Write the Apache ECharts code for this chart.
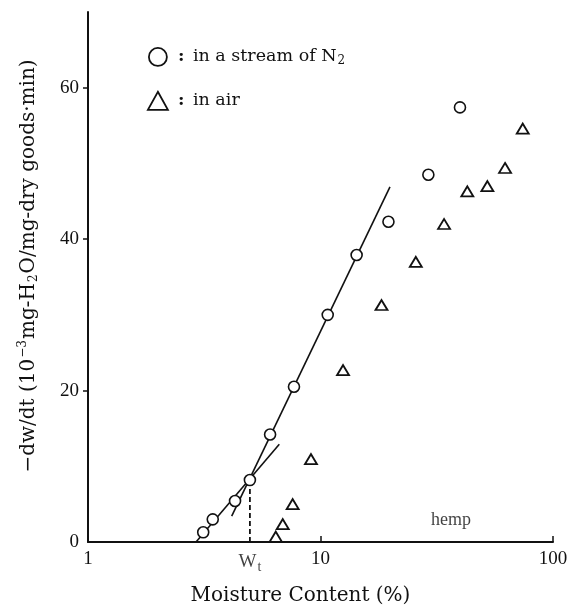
<!DOCTYPE html>
<html>
<head>
<meta charset="utf-8">
<title>Drying rate vs moisture content (hemp)</title>
<script src="https://cdn.jsdelivr.net/npm/echarts@6/dist/echarts.min.js"></script>
<style>
  html, body { margin: 0; padding: 0; background: #fff; }
  #chart { width: 577px; height: 609px; }
</style>
</head>
<body>
<div id="chart"></div>
<script>
// Drying rate of hemp, in a stream of N2 (circles) and in air (triangles)
const moistureN2 = [3.13, 3.44, 4.29, 4.97, 6.07, 7.69, 10.74, 14.3, 19.6, 29.1, 39.8];
const rateN2     = [1.28, 2.99, 5.41, 8.18, 14.2, 20.5, 30.0, 37.9, 42.3, 48.5, 57.4];

const moistureAir = [6.42, 6.88, 7.59, 9.10, 12.5, 18.3, 25.7, 34.0, 42.8, 52.2, 62.2, 74.1];
const rateAir     = [0.70, 2.37, 5.0, 10.95, 22.7, 31.3, 37.0, 42.0, 46.3, 47.0, 49.4, 54.6];

// Two straight fits (straight on the semi-log axes) crossing at the transition point Wt
const steepFitX = [4.15, 19.9];
const steepFitY = [3.43, 46.9];
const shallowFitX = [2.915, 6.65];
const shallowFitY = [0, 12.9];

// Transition moisture content Wt and the rate there
const wtMoisture = 4.97;
const wtRate = 8.18;

// Axis ticks
const xTicks = [1, 10, 100];
const yTicks = [0, 20, 40, 60];

// Sample label position
const sampleName = 'hemp';
const sampleAt = [36.4, 2.9];

const serif = "'Liberation Serif', 'DejaVu Serif', serif";
const wide = "'DejaVu Serif', 'Liberation Serif', serif";
const ink = '#111';

const zip = (xs, ys) => xs.map((x, i) => [x, ys[i]]);

const chart = echarts.init(document.getElementById('chart'));

chart.setOption({
  backgroundColor: '#fff',
  animation: false,
  textStyle: { fontFamily: serif, color: ink },
  grid: { left: 88, right: 24, top: 12, bottom: 67, outerBoundsMode: 'none' },
  legend: {
    orient: 'vertical',
    left: 147,
    top: 47,
    padding: 0,
    itemWidth: 20,
    itemHeight: 18,
    itemGap: 24,
    data: [
      { name: 'in a stream of N2', icon: 'circle' },
      { name: 'in air', icon: 'triangle' }
    ],
    itemStyle: { color: '#fff', borderColor: ink, borderWidth: 1.8 },
    formatter: name => name === 'in air'
      ? '{c|:} in air'
      : '{c|:} in a stream of N{s|2}',
    textStyle: {
      fontFamily: wide,
      fontSize: 17.5,
      color: ink,
      padding: [0, 0, 0, 5],
      rich: {
        c: { fontFamily: wide, fontSize: 17.5, fontWeight: 'bold', color: ink, padding: [0, 3, 0, 0] },
        s: { fontFamily: wide, fontSize: 12, color: ink, padding: [8, 0, 0, 1] }
      }
    }
  },
  xAxis: {
    type: 'log',
    logBase: 10,
    min: xTicks[0],
    max: xTicks[xTicks.length - 1],
    name: 'Moisture Content (%)',
    nameLocation: 'middle',
    nameGap: 44,
    nameTextStyle: { fontFamily: wide, fontSize: 20, color: ink, padding: [0, 40, 0, 0] },
    axisLine: { onZero: false, lineStyle: { color: ink, width: 2 } },
    axisTick: { inside: true, length: 6, lineStyle: { color: ink, width: 1.5 } },
    minorTick: { show: false },
    splitLine: { show: false },
    axisLabel: { fontFamily: serif, fontSize: 19, color: ink, margin: 8 }
  },
  yAxis: {
    type: 'value',
    min: 0,
    max: 70,
    interval: 20,
    name: '{b|−dw/dt (10}{p|−3}{b|mg-H}{q|2}{b|O/mg-dry goods·min)}',
    nameLocation: 'middle',
    nameGap: 47,
    nameTextStyle: {
      fontFamily: wide,
      fontSize: 20,
      color: ink,
      padding: [0, 0, 0, 22],
      rich: {
        b: { fontFamily: wide, fontSize: 20, color: ink },
        p: { fontFamily: wide, fontSize: 12, color: ink, padding: [0, 1, 12, 1] },
        q: { fontFamily: wide, fontSize: 12, color: ink, padding: [10, 1, 0, 1] }
      }
    },
    axisLine: { lineStyle: { color: ink, width: 2 } },
    axisTick: { length: 5, customValues: [20, 40, 60], lineStyle: { color: ink, width: 1.5 } },
    splitLine: { show: false },
    axisLabel: { fontFamily: serif, fontSize: 19, color: ink, margin: 9, customValues: yTicks }
  },
  series: [
    {
      name: 'steep fit',
      type: 'line',
      data: zip(steepFitX, steepFitY),
      symbol: 'none',
      silent: true,
      lineStyle: { color: ink, width: 1.6 },
      z: 2
    },
    {
      name: 'shallow fit',
      type: 'line',
      data: zip(shallowFitX, shallowFitY),
      symbol: 'none',
      silent: true,
      lineStyle: { color: ink, width: 1.6 },
      z: 2
    },
    {
      name: 'Wt marker',
      type: 'line',
      data: [[wtMoisture, 0], [wtMoisture, wtRate]],
      symbol: 'none',
      silent: true,
      lineStyle: { color: ink, width: 1.8, type: [5, 3] },
      z: 2
    },
    {
      name: 'in a stream of N2',
      type: 'scatter',
      data: zip(moistureN2, rateN2),
      symbol: 'circle',
      symbolSize: 11,
      itemStyle: { color: '#fff', borderColor: ink, borderWidth: 1.6, opacity: 1 },
      z: 5
    },
    {
      name: 'in air',
      type: 'scatter',
      data: zip(moistureAir, rateAir),
      symbol: 'triangle',
      symbolSize: [12, 10],
      itemStyle: { color: '#fff', borderColor: ink, borderWidth: 1.8, opacity: 1 },
      z: 5
    },
    {
      name: 'labels',
      type: 'scatter',
      silent: true,
      symbolSize: 1,
      itemStyle: { color: 'rgba(0,0,0,0)' },
      z: 6,
      data: [
        {
          value: [wtMoisture, 0],
          label: {
            show: true,
            position: 'bottom',
            distance: 8,
            formatter: '{w|W}{t|t}',
            rich: {
              w: { fontFamily: serif, fontSize: 19, color: ink },
              t: { fontFamily: serif, fontSize: 14, color: ink, padding: [10, 0, 0, 1] }
            }
          }
        },
        {
          value: sampleAt,
          label: {
            show: true,
            position: 'inside',
            formatter: sampleName,
            fontFamily: serif,
            fontSize: 18,
            color: ink
          }
        }
      ]
    }
  ]
});
</script>
</body>
</html>
